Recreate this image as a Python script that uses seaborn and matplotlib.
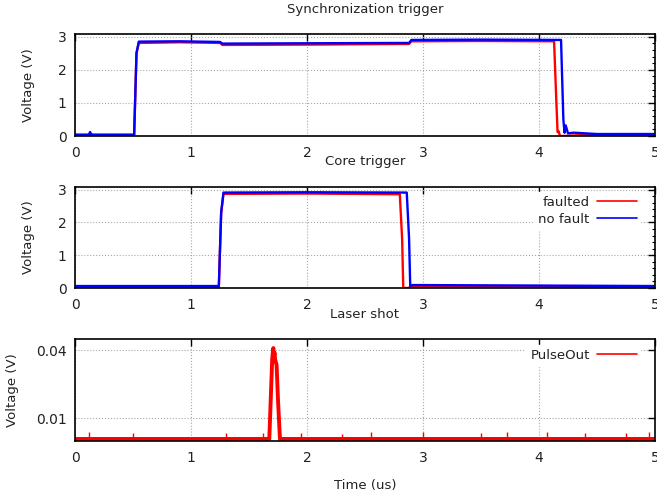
import matplotlib
matplotlib.use("Agg")
import matplotlib.pyplot as plt
from matplotlib.ticker import AutoMinorLocator, MultipleLocator
import seaborn as sns

# --- data (time in us, voltage in V) ---
sync_t_faulted = [0.0, 0.13, 0.14, 0.15, 0.51, 0.53, 0.55, 0.9, 1.25, 1.27, 2.0, 2.88, 2.90, 3.5,
                  4.13, 4.15, 4.16, 4.17, 4.18, 4.21, 4.5, 5.0]
sync_v_faulted = [0.03, 0.03, 0.06, 0.03, 0.03, 2.5, 2.81, 2.83, 2.81, 2.75, 2.76, 2.78, 2.86, 2.87,
                  2.86, 1.0, 0.12, 0.14, 0.0, 0.0, 0.05, 0.05]
sync_t_nofault = [0.0, 0.12, 0.13, 0.14, 0.51, 0.53, 0.55, 0.9, 1.25, 1.27, 2.0, 2.88, 2.90, 3.5,
                  4.19, 4.21, 4.22, 4.23, 4.25, 4.3, 4.5, 5.0]
sync_v_nofault = [0.04, 0.04, 0.12, 0.04, 0.04, 2.5, 2.85, 2.86, 2.84, 2.79, 2.80, 2.81, 2.90, 2.91,
                  2.90, 0.5, 0.1, 0.32, 0.08, 0.1, 0.06, 0.06]

core_t_faulted = [0.0, 1.24, 1.26, 1.28, 2.0, 2.80, 2.82, 2.83, 2.87, 2.9, 5.0]
core_v_faulted = [0.04, 0.04, 2.3, 2.87, 2.88, 2.86, 1.5, 0.0, 0.0, 0.04, 0.04]
core_t_nofault = [0.0, 1.24, 1.26, 1.28, 2.0, 2.86, 2.88, 2.89, 2.91, 5.0]
core_v_nofault = [0.06, 0.06, 2.3, 2.91, 2.92, 2.91, 1.5, 0.06, 0.09, 0.06]

laser_t = [0.0, 1.675, 1.69, 1.70, 1.705, 1.71, 1.715, 1.72, 1.725, 1.738, 1.75, 1.767, 5.0]
laser_v = [0.0009, 0.0009, 0.022, 0.036, 0.039, 0.041, 0.037, 0.039, 0.036, 0.0335, 0.018, 0.0009, 0.0009]

# a few spikes above the noise floor of the laser trace
spike_t = [0.12, 0.5, 1.3, 1.62, 1.95, 2.3, 2.55, 3.0, 3.5, 3.72, 4.07, 4.4, 4.75, 4.95]
spike_v = [0.004, 0.0035, 0.0035, 0.0035, 0.0035, 0.003, 0.004, 0.004, 0.0035, 0.004, 0.004, 0.0035, 0.0035, 0.004]

sns.set_style("white")
plt.rcParams["font.family"] = ["DejaVu Sans"]
plt.rcParams["font.size"] = 9.5

fig = plt.figure(figsize=(6.57, 4.98), dpi=100)
W, H = 657, 498


def px_axes(left, top, right, bottom):
    return fig.add_axes([left / W, 1 - bottom / H, (right - left) / W, (bottom - top) / H])


ax1 = px_axes(75, 34, 655, 136)
ax2 = px_axes(75, 187, 655, 288)
ax3 = px_axes(75, 339, 655, 441)

red = "#ff0000"
blue = "#0000ff"
lw = 1.7

sns.lineplot(x=sync_t_faulted, y=sync_v_faulted, ax=ax1, color=red, lw=lw, estimator=None, sort=False)
sns.lineplot(x=sync_t_nofault, y=sync_v_nofault, ax=ax1, color=blue, lw=lw, estimator=None, sort=False)

sns.lineplot(x=core_t_faulted, y=core_v_faulted, ax=ax2, color=red, lw=lw, estimator=None, sort=False,
             label="faulted")
sns.lineplot(x=core_t_nofault, y=core_v_nofault, ax=ax2, color=blue, lw=lw, estimator=None, sort=False,
             label="no fault")

sns.lineplot(x=laser_t, y=laser_v, ax=ax3, color=red, lw=2.8, estimator=None, sort=False, label="PulseOut")
ax3.vlines(spike_t, 0, spike_v, color=red, lw=1.0)

for ax in (ax1, ax2, ax3):
    ax.set_xlim(0, 5)
    ax.xaxis.set_major_locator(MultipleLocator(1))
    ax.grid(True, which="major", color="#a8a8a8", ls=":", lw=0.8)
    ax.tick_params(which="both", direction="in", top=True, right=True, colors="black",
                   labelcolor="#222222", labelsize=10)
    ax.tick_params(which="major", length=5, width=1, pad=6)
    ax.tick_params(axis="x", which="major", pad=7)
    ax.tick_params(which="minor", length=2.5, width=0.8)
    for s in ax.spines.values():
        s.set_color("black")
        s.set_linewidth(1.2)
    ax.set_xlabel("")
    ax.set_ylabel("Voltage (V)", color="#222222")

for ax in (ax1, ax2):
    ax.set_ylim(0, 3.08)
    ax.yaxis.set_major_locator(MultipleLocator(1))
    ax.yaxis.set_minor_locator(AutoMinorLocator(5))
    ax.yaxis.set_label_coords(-0.069, 0.5)

ax3.set_ylim(0, 0.045)
ax3.set_yticks([0.01, 0.04])
ax3.set_yticklabels(["0.01", "0.04"])
ax3.yaxis.set_label_coords(-0.097, 0.5)

for ax, y in ((ax2, 0.95), (ax3, 0.945)):
    leg = ax.legend(loc="upper right", bbox_to_anchor=(0.975, y), markerfirst=False,
                    handlelength=3.0, handletextpad=0.55, labelspacing=0.3,
                    borderaxespad=0, borderpad=0.3, frameon=True, fancybox=False)
    leg.get_frame().set_edgecolor("white")
    leg.get_frame().set_facecolor("white")
    leg.get_frame().set_alpha(1)
    for lh in leg.get_lines():
        lh.set_linewidth(1.2)
    for t in leg.get_texts():
        t.set_color("#222222")

fig.text(365 / W, 1 - 10 / H, "Synchronization trigger", ha="center", va="center", color="#222222")
fig.text(365 / W, 1 - 161 / H, "Core trigger", ha="center", va="center", color="#222222")
fig.text(365 / W, 1 - 315 / H, "Laser shot", ha="center", va="center", color="#222222")
fig.text(365 / W, 1 - 485 / H, "Time (us)", ha="center", va="center", color="#222222")

fig.savefig("out.png", dpi=100)
